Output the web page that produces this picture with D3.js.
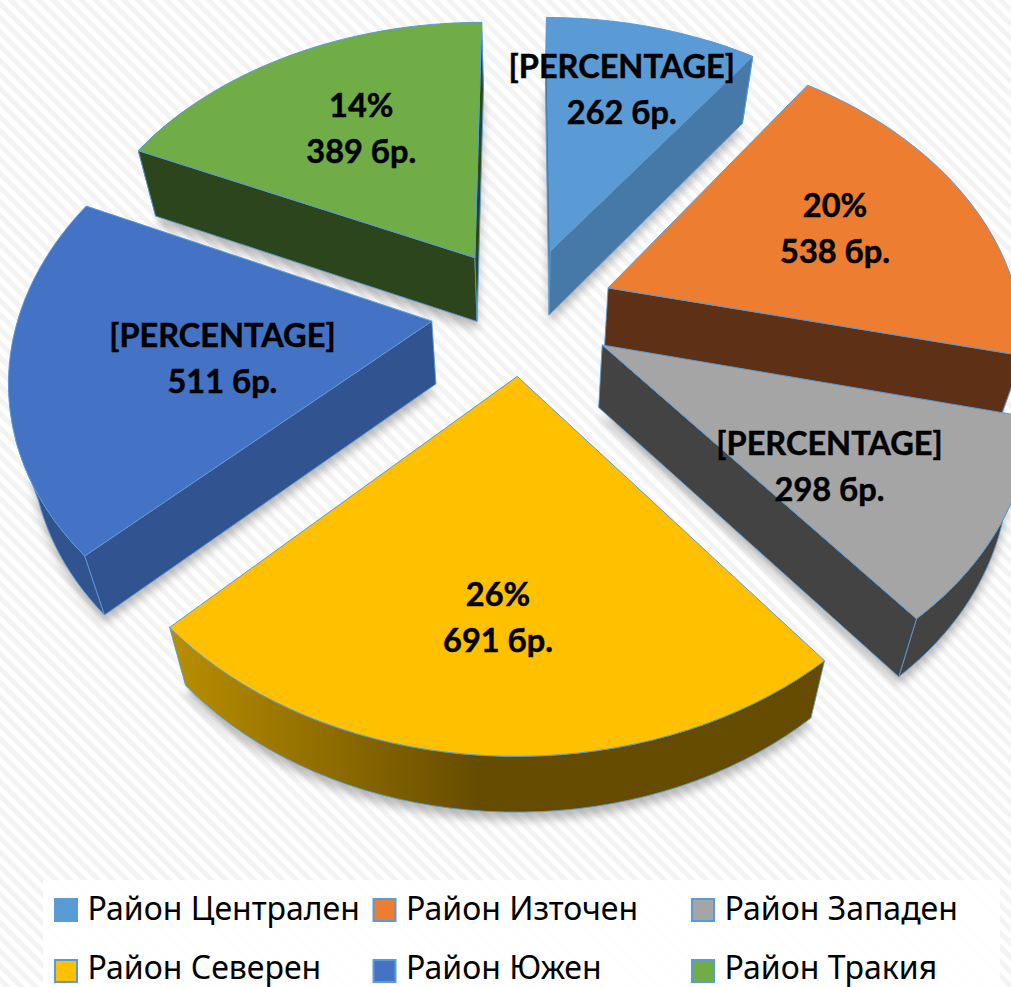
<!DOCTYPE html>
<html lang="bg">
<head>
<meta charset="utf-8">
<title>Райони</title>
<style>
  html, body { margin: 0; padding: 0; background: #fff; overflow: hidden; }
  svg { display: block; }
  .lbl { font-family: Lato, "Open Sans", sans-serif; font-weight: 700; font-size: 32.5px; fill: #000; stroke: #000; stroke-width: 0.5px; text-anchor: middle; }
  .leg { font-family: "Noto Sans", "Open Sans", sans-serif; font-size: 32px; fill: #000; }
</style>
</head>
<body>
<div id="chart"></div>
<script src="https://d3js.org/d3.v7.min.js"></script>
<script>
// Data
const categories = ["Район Централен", "Район Източен", "Район Западен", "Район Северен", "Район Южен", "Район Тракия"];
const counts = [262, 538, 298, 691, 511, 389];
const percentLabels = ["[PERCENTAGE]", "20%", "[PERCENTAGE]", "26%", "[PERCENTAGE]", "14%"];

// Colours per slice
const topColors = ["#5b9bd5", "#ed7d31", "#a5a5a5", "#ffc000", "#4472c4", "#70ad47"];
const wallColors = ["#4679a8", "#5e3117", "#434343", "url(#yellowWall)", "#315491", "#2c451c"];
const edgeColor = "#5b9bd5";

const width = 1011, height = 987;

// Ground plane -> screen (perspective of the tilted pie)
const cx = 523, cy = 310, scaleX = 418, scaleY = 291, persp = 0.168, explode = 0.22, radiusU = 0.985;
function toScreen(u, v) {
   const w = 1 - persp * v;
   return [cx + scaleX * u / w, cy + scaleY * v / w];
}
// The bottom rim sits lower and a bit closer to the middle
function lower(p) {
   return [cx + (p[0] - cx) * 0.955, p[1] * 0.984 + 67.9];
}

const deg = Math.PI / 180;
const arcs = d3.pie().sort(null).startAngle(0).endAngle(2 * Math.PI)(counts);

// Slices look rotated a bit round the left/bottom of the pie, this pulls them there
const breaks = arcs.map(a => a.startAngle).concat([2 * Math.PI]);
const drawnAngle = d3.scaleLinear()
   .domain(breaks)
   .range([0, 35.8, 103.3, 141.5, 225.4, 294.7, 360].map(d => d * deg));

const labelRadius = [0.71, 0.617, 0.612, 0.675, 0.498, 0.60];
const labelAngle = [16.7, 69.3, 127.2, 183.2, 256, 328.5];
const labelNudge = [3, -1, 0, 0, 0, -1];

const slices = arcs.map((a, i) => {
   const t0 = drawnAngle(a.startAngle), t1 = drawnAngle(a.endAngle);
   const mid = (t0 + t1) / 2;
   const ou = explode * Math.sin(mid), ov = -explode * Math.cos(mid);
   const at = (t, r, ru) => toScreen(ou + (ru || r) * Math.sin(t), ov - r * Math.cos(t));
   const rim = d3.range(0, 41).map(k => at(t0 + (t1 - t0) * k / 40, 1, radiusU));
   return {
      i, rim,
      apex: at(0, 0),
      rimLow: rim.map(lower),
      label: at(labelAngle[i] * deg, labelRadius[i])
   };
});

const svg = d3.select("#chart").append("svg").attr("width", width).attr("height", height);
const defs = svg.append("defs");

// Hatched slide background
const hatch = defs.append("pattern")
   .attr("id", "hatch")
   .attr("patternUnits", "userSpaceOnUse")
   .attr("width", 10).attr("height", 10)
   .attr("patternTransform", "rotate(45)");
hatch.append("rect").attr("width", 10).attr("height", 10).attr("fill", "#ffffff");
hatch.append("rect").attr("width", 10).attr("height", 5).attr("fill", "#f3f3f3");

const grad = defs.append("linearGradient")
   .attr("id", "yellowWall")
   .attr("gradientUnits", "userSpaceOnUse")
   .attr("x1", 170).attr("x2", 480).attr("y1", 0).attr("y2", 0);
grad.append("stop").attr("offset", "0%").attr("stop-color", "#b98f00");
grad.append("stop").attr("offset", "100%").attr("stop-color", "#664c00");

const blur = defs.append("filter")
   .attr("id", "softShadow")
   .attr("x", "-20%").attr("y", "-20%").attr("width", "140%").attr("height", "140%");
blur.append("feGaussianBlur").attr("stdDeviation", 5);

svg.append("rect").attr("width", width).attr("height", height).attr("fill", "url(#hatch)");

const line = d3.line();
const close = pts => line(pts) + "Z";

// Shadow layer, under everything
const shadow = svg.append("g")
   .attr("filter", "url(#softShadow)")
   .attr("transform", "translate(0,8)")
   .attr("opacity", 0.4);
slices.forEach(s => {
   const pts = [s.apex, ...s.rim].map(lower);
   shadow.append("path").attr("d", close(pts)).attr("fill", "#555");
});

// Back to front
const drawOrder = [0, 5, 1, 4, 2, 3];
const pie = svg.append("g");
drawOrder.forEach(i => {
   const s = slices[i];
   const g = pie.append("g");
   const last = s.rim.length - 1;
   const top = [s.apex, ...s.rim];
   const addWall = pts => g.append("path")
      .attr("d", close(pts))
      .attr("fill", wallColors[i])
      .attr("stroke", edgeColor)
      .attr("stroke-width", 0.9);

   // outer wall first, only the part of the rim whose lower edge shows outside the top face
   const shown = d3.range(0, last + 1).filter(k => !d3.polygonContains(top, s.rimLow[k]));
   if (shown.length > 1) {
      addWall([...shown.map(k => s.rim[k]), ...shown.slice().reverse().map(k => s.rimLow[k])]);
   }
   // flat cut walls, skipped when they fall behind the top face
   [0, last].forEach(k => {
      const low = lower(s.apex), end = s.rimLow[k];
      const midLow = [(low[0] + end[0]) / 2, (low[1] + end[1]) / 2];
      if (!d3.polygonContains(top, midLow)) addWall([s.apex, s.rim[k], end, low]);
   });

   g.append("path")
      .attr("d", close(top))
      .attr("fill", topColors[i])
      .attr("stroke", edgeColor)
      .attr("stroke-width", 1);
});

// Data labels
const labels = svg.append("g");
slices.forEach(s => {
   const y = s.label[1] + labelNudge[s.i];
   labels.append("text").attr("class", "lbl")
      .attr("x", s.label[0]).attr("y", y - 10)
      .text(percentLabels[s.i]);
   labels.append("text").attr("class", "lbl")
      .attr("x", s.label[0]).attr("y", y + 36)
      .text(counts[s.i] + " бр.");
});

// Legend
svg.append("rect")
   .attr("x", 43).attr("y", 880).attr("width", 957).attr("height", 107)
   .attr("fill", "#fff").attr("fill-opacity", 0.85);
const colX = d3.scalePoint().domain([0, 1, 2]).range([54, 691]);
const rowY = d3.scalePoint().domain([0, 1]).range([898, 959]);
const legend = svg.append("g").selectAll("g")
   .data(categories)
   .join("g")
   .attr("transform", (d, i) => `translate(${colX(i % 3)},${rowY(Math.floor(i / 3))})`);
legend.append("rect")
   .attr("x", 1).attr("y", 1).attr("width", 22).attr("height", 22)
   .attr("fill", (d, i) => topColors[i])
   .attr("stroke", edgeColor).attr("stroke-width", 2);
// second row text sits a touch higher so the descenders stay on the page
legend.append("text")
   .attr("class", "leg")
   .attr("x", 33.5).attr("y", (d, i) => i < 3 ? 22 : 20)
   .text(d => d);
</script>
</body>
</html>
